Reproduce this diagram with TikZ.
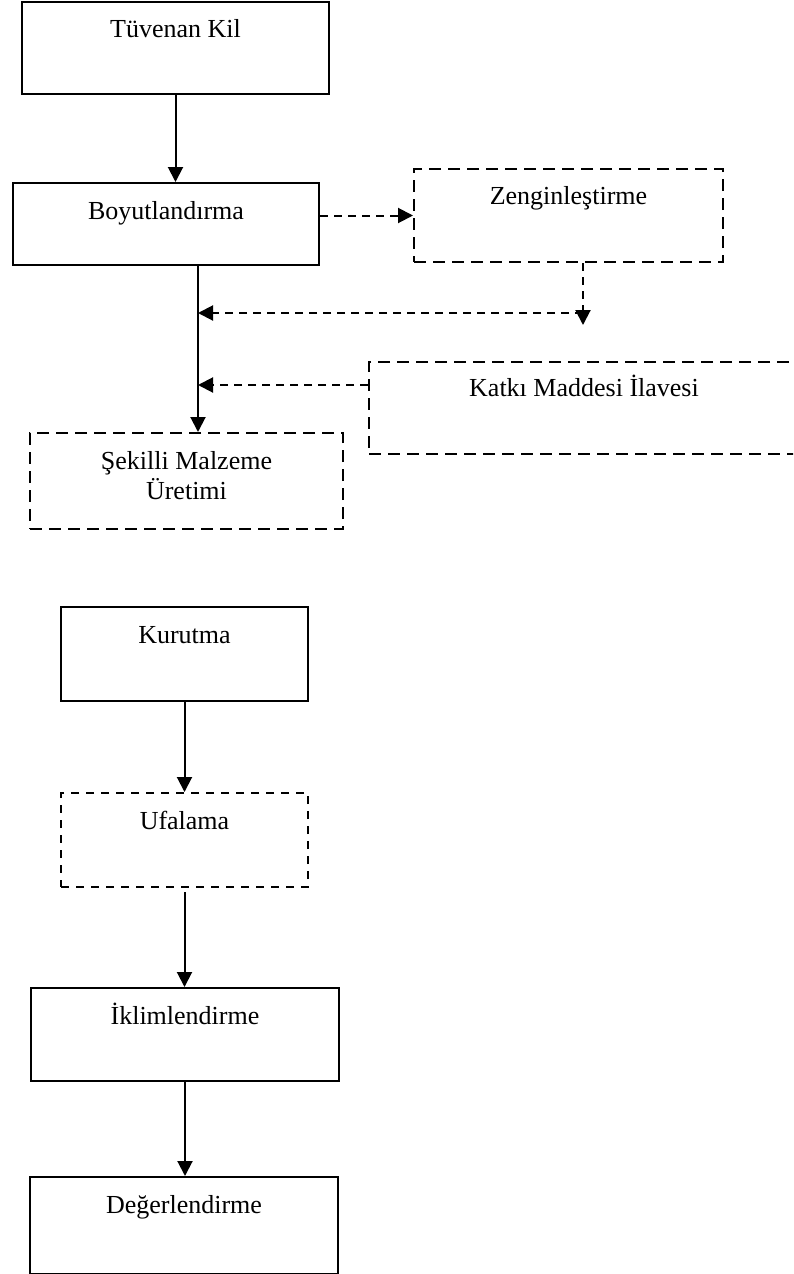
\documentclass[tikz,border=0pt]{standalone}
\usepackage{fontspec}
\setmainfont{Liberation Serif}
\usetikzlibrary{arrows.meta}

\begin{document}
\begin{tikzpicture}[x=1pt, y=-1pt,
        font=\fontsize{26}{30}\selectfont,
        box/.style={draw, line width=2pt, inner sep=0pt, anchor=north west},
        longdash/.style={box, dash pattern=on 12pt off 7pt},
        shortdash/.style={box, dash pattern=on 8pt off 7pt},
        arr/.style={line width=2pt, -{Triangle[length=15pt, width=15pt]}},
        darr/.style={arr, dash pattern=on 8pt off 6pt}]
            \useasboundingbox (0,0) rectangle (793,1274);
            \clip (0,0) rectangle (793,1274);

            \node[box, minimum width=307pt, text height=35pt, text depth=57pt] (tuvenan) at (21,1) {Tüvenan Kil};
            \node[box, minimum width=306pt, text height=36pt, text depth=46pt] (boyut) at (12,182) {Boyutlandırma};
            \node[longdash, minimum width=309pt, text height=35pt, text depth=58pt] (zengin) at (413,168) {Zenginleştirme};
            \node[longdash, minimum width=430pt, text height=34pt, text depth=58pt] (katki) at (368,361) {Katkı Maddesi İlavesi};
            \node[longdash, minimum width=313pt, text height=36pt, text depth=60pt] (sekilli) at (29,432)
                {\begin{tabular}[t]{@{}c@{}}Şekilli Malzeme\\ Üretimi\end{tabular}};

            \node[box, minimum width=247pt, text height=36pt, text depth=58pt] (kurutma) at (60,606) {Kurutma};
            \node[shortdash, minimum width=247pt, text height=36pt, text depth=58pt] (ufalama) at (60,792) {Ufalama};
            \node[box, minimum width=308pt, text height=36pt, text depth=57pt] (iklim) at (30,987) {İklimlendirme};
            \node[box, minimum width=308pt, text height=36pt, text depth=61pt] (deger) at (29,1176) {Değerlendirme};

            \coordinate (trunk) at (198,300);
            \coordinate (feed) at (583,313);
            \coordinate (addin) at ([yshift=23pt]katki.west);

            \draw[arr] (tuvenan.south) -- (tuvenan.south |- boyut.north);
            \draw[darr] (boyut.east |- zengin.west) -- (zengin.west);
            \draw[darr] (feed |- zengin.south) -- ([yshift=-12pt]feed);
            \draw[darr] (feed) -- (feed -| trunk);
            \draw[darr] (addin) -- (addin -| trunk);
            \draw[arr] (trunk |- boyut.south) -- (trunk |- sekilli.north);

            \draw[arr] (kurutma.south) -- (ufalama.north);
            \draw[arr] ([yshift=-4pt]ufalama.south) -- (ufalama.south |- iklim.north);
            \draw[arr] (iklim.south) -- (iklim.south |- deger.north);

        \end{tikzpicture}
\end{document}
